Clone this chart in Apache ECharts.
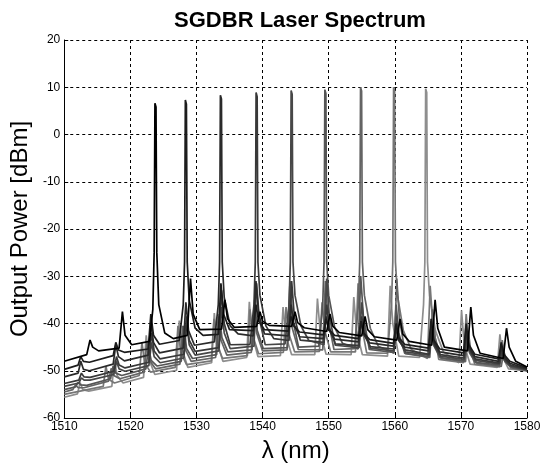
<!DOCTYPE html>
<html>
<head>
<meta charset="utf-8">
<script src="https://cdn.jsdelivr.net/npm/echarts@6/dist/echarts.min.js"></script>
<style>html,body{margin:0;padding:0;background:#fff;}#c{width:546px;height:468px;}</style>
</head>
<body>
<div id="c"></div>
<script>
// Wavelength [nm] vs output power [dBm] for each tuned channel (main peak wavelength in name)
const spec1523 = [[1510,-48],[1513.4,-46.6],[1513.9,-43.5],[1514.3,-45],[1515.2,-45.8],
[1518.3,-45.2],[1518.8,-37.5],[1519.2,-42.5],[1520.2,-44.5],
[1522.9,-43.8],[1523.4,-37],[1523.6,-25],[1523.72,6.6],[1523.88,5.8],[1524.0,-25],[1524.3,-36],[1525.2,-42],[1526.5,-43.2],
[1528.6,-42.5],[1529.1,-30.5],[1529.5,-38],[1530.5,-41.3],
[1533.8,-41.2],[1534.3,-35],[1534.7,-39],[1535.7,-40.8],
[1539.1,-40.6],[1539.6,-37.5],[1540,-39.5],[1541,-40.4],
[1544.4,-40.6],[1544.9,-37.5],[1545.3,-39.8],[1546.3,-40.9],
[1549.7,-41.7],[1550.2,-38],[1550.6,-40.5],[1551.6,-41.9],
[1555,-42.6],[1555.5,-38.5],[1555.9,-41.3],[1556.9,-42.8],
[1560.3,-43.5],[1560.8,-39],[1561.2,-42.2],[1562.2,-43.8],
[1565.6,-44.6],[1566.1,-35],[1566.5,-41],[1567.5,-45],
[1571,-45.8],[1571.5,-36.5],[1571.9,-42.5],[1572.9,-46.3],
[1576.4,-47.4],[1576.9,-41],[1577.3,-45],[1578.3,-48],
[1580,-49.2]];

const spec1528 = [[1510,-49.7],[1512.1,-48.8],[1512.5,-47],[1512.9,-48],[1513.8,-48.2],
[1517.4,-46.8],[1517.8,-44],[1518.2,-45.6],[1519.1,-46.1],
[1522.7,-45.4],[1523.1,-38],[1523.5,-42.5],[1524.4,-44.4],
[1527.4,-43.6],[1528,-36],[1528.2,-27],[1528.32,7.3],[1528.48,6.4],[1528.6,-27],[1528.9,-35],[1529.8,-41],[1531,-42.5],
[1533.3,-42.3],[1533.7,-31.5],[1534.1,-38],[1535,-41.3],
[1538.6,-41.5],[1539,-36],[1539.4,-39.5],[1540.3,-41.3],
[1543.9,-41.6],[1544.3,-38.5],[1544.7,-40.5],[1545.6,-41.8],
[1549.2,-42.4],[1549.6,-39],[1550,-41.2],[1550.9,-42.5],
[1554.5,-43.2],[1554.9,-39.5],[1555.3,-42],[1556.2,-43.4],
[1559.8,-44.2],[1560.2,-40],[1560.6,-43],[1561.5,-44.4],
[1565.1,-45.2],[1565.5,-39],[1565.9,-43.5],[1566.8,-45.4],
[1570.4,-46.2],[1570.8,-40],[1571.2,-44.5],[1572.1,-46.5],
[1575.7,-47.5],[1576.1,-44],[1576.5,-46.5],[1577.4,-48],
[1580,-49.4]];

const spec1534 = [[1510,-51.3],[1512.1,-50.5],[1512.5,-48],[1512.9,-49.7],[1513.8,-50],
[1517.4,-48.6],[1517.8,-44.5],[1518.2,-47],[1519.1,-47.9],
[1522.7,-46.7],[1523.1,-40],[1523.5,-44],[1524.4,-46.2],
[1528,-45.2],[1528.4,-35.5],[1528.8,-41.5],[1529.7,-44.6],
[1532.7,-43.9],[1533.3,-36],[1533.5,-27],[1533.62,8.3],[1533.78,7.5],[1533.9,-27],[1534.2,-34.5],[1535.1,-40.5],[1536.3,-42.2],
[1538.6,-42.6],[1539,-31],[1539.4,-38],[1540.3,-42.2],
[1543.9,-42.6],[1544.3,-36],[1544.7,-40],[1545.6,-42.8],
[1549.2,-43.2],[1549.6,-38.5],[1550,-41.3],[1550.9,-43.3],
[1554.5,-43.9],[1554.9,-39.5],[1555.3,-42.3],[1556.2,-44.1],
[1559.8,-44.8],[1560.2,-41],[1560.6,-43.6],[1561.5,-45],
[1565.1,-45.8],[1565.5,-40.5],[1565.9,-44],[1566.8,-46],
[1570.4,-46.8],[1570.8,-41.5],[1571.2,-45],[1572.1,-47],
[1575.7,-48],[1576.1,-45],[1576.5,-47],[1577.4,-48.4],
[1580,-49.6]];

const spec1539 = [[1510,-52.7],[1512.2,-52],[1512.6,-50.5],[1513,-51.3],[1513.9,-51.4],
[1517.5,-50.1],[1517.9,-47],[1518.3,-48.8],[1519.2,-49.4],
[1522.8,-48.2],[1523.2,-42],[1523.6,-45.8],[1524.5,-47.5],
[1528.1,-46.5],[1528.5,-38.5],[1528.9,-43.5],[1529.8,-45.9],
[1533.4,-45.1],[1533.8,-33],[1534.2,-40],[1535.1,-44.5],
[1538.1,-44.4],[1538.7,-36],[1538.9,-27],[1539.02,8.9],[1539.18,8.0],[1539.3,-27],[1539.6,-34],[1540.5,-40.5],[1541.7,-43.2],
[1544,-43.6],[1544.4,-31],[1544.8,-38.5],[1545.7,-43.5],
[1549.3,-44],[1549.7,-36],[1550.1,-41],[1551,-44.3],
[1554.6,-44.7],[1555,-38.5],[1555.4,-42.5],[1556.3,-44.9],
[1559.9,-45.4],[1560.3,-40],[1560.7,-43.8],[1561.6,-45.6],
[1565.2,-46.5],[1565.6,-40.5],[1566,-44.5],[1566.9,-46.6],
[1570.5,-47.3],[1570.9,-42],[1571.3,-45.6],[1572.2,-47.5],
[1575.8,-48.4],[1576.2,-45.5],[1576.6,-47.5],[1577.5,-48.8],
[1580,-49.7]];

const spec1544 = [[1510,-53.3],[1512.2,-52.6],[1512.6,-51.5],[1513,-52],[1513.9,-52],
[1517.5,-50.8],[1517.9,-48],[1518.3,-49.6],[1519.2,-50.1],
[1522.8,-48.9],[1523.2,-44],[1523.6,-47],[1524.5,-48.3],
[1528.1,-47.3],[1528.5,-39.5],[1528.9,-44.5],[1529.8,-46.7],
[1533.4,-45.8],[1533.8,-36.5],[1534.2,-42],[1535.1,-45.3],
[1538.7,-44.8],[1539.1,-31.5],[1539.5,-39],[1540.4,-44.5],
[1543.4,-44.3],[1544,-36],[1544.2,-27],[1544.32,9.3],[1544.48,8.5],[1544.6,-27],[1544.9,-34],[1545.8,-40.5],[1547,-43.6],
[1549.3,-44.5],[1549.7,-30.5],[1550.1,-38.5],[1551,-44.6],
[1554.6,-45.1],[1555,-35.5],[1555.4,-41.3],[1556.3,-45.2],
[1559.9,-45.8],[1560.3,-38.5],[1560.7,-43.5],[1561.6,-46],
[1565.2,-46.7],[1565.6,-41],[1566,-44.8],[1566.9,-46.9],
[1570.5,-47.6],[1570.9,-42],[1571.3,-45.8],[1572.2,-47.8],
[1575.8,-48.6],[1576.2,-46],[1576.6,-47.8],[1577.5,-49],
[1580,-49.8]];

const spec1549 = [[1510,-54],[1511.7,-53.4],[1512.1,-52.5],[1512.5,-53],[1513.4,-53.1],
[1517,-51.7],[1517.4,-49],[1517.8,-50.5],[1518.7,-51],
[1522.35,-49.6],[1522.75,-45],[1523.15,-47.8],[1524.05,-49],
[1527.7,-48],[1528.1,-40.5],[1528.5,-45.3],[1529.4,-47.4],
[1533.05,-46.6],[1533.45,-38],[1533.85,-43],[1534.75,-46],
[1538.4,-45.6],[1538.8,-35],[1539.2,-41.5],[1540.1,-45.3],
[1543.75,-45.1],[1544.15,-31],[1544.55,-39],[1545.45,-45],
[1548.5,-44.8],[1549.1,-36],[1549.3,-27],[1549.42,9.5],[1549.58,8.7],[1549.7,-27],[1550,-34],[1550.9,-40.8],[1552.1,-44.2],
[1554.45,-45.4],[1554.85,-30],[1555.25,-38.5],[1556.15,-45.5],
[1559.8,-46.1],[1560.2,-36],[1560.6,-42],[1561.5,-46.3],
[1565.15,-47],[1565.55,-40.5],[1565.95,-44.8],[1566.85,-47.2],
[1570.5,-47.9],[1570.9,-43],[1571.3,-46.2],[1572.2,-48.2],
[1575.85,-48.8],[1576.25,-46.5],[1576.65,-48],[1577.55,-49.2],
[1580,-49.9]];

const spec1555 = [[1510,-54.5],[1511.3,-54],[1511.7,-53],[1512.1,-53.6],[1513,-53.6],
[1516.7,-52.2],[1517.1,-49.5],[1517.5,-51],[1518.4,-51.7],
[1522.1,-50.3],[1522.5,-44],[1522.9,-47.8],[1523.8,-49.6],
[1527.5,-48.6],[1527.9,-40.5],[1528.3,-45.5],[1529.2,-48],
[1532.9,-47.2],[1533.3,-38.5],[1533.7,-43.5],[1534.6,-46.7],
[1538.3,-46.1],[1538.7,-36.5],[1539.1,-42],[1540,-45.8],
[1543.7,-45.6],[1544.1,-35],[1544.5,-41],[1545.4,-45.5],
[1549.1,-45.6],[1549.5,-31],[1549.9,-39],[1550.8,-45.5],
[1553.9,-45.3],[1554.5,-36],[1554.7,-27],[1554.82,10],[1554.98,9.2],[1555.1,-27],[1555.4,-34],[1556.3,-41],[1557.5,-44.8],
[1559.9,-46.3],[1560.3,-30.5],[1560.7,-39],[1561.6,-46.4],
[1565.3,-47.2],[1565.7,-37],[1566.1,-43],[1567,-47.4],
[1570.7,-48.1],[1571.1,-41.5],[1571.5,-45.8],[1572.4,-48.4],
[1576.1,-49.1],[1576.5,-46],[1576.9,-48],[1577.8,-49.4],
[1580,-50]];

const spec1560 = [[1510,-55],[1515.9,-53.3],[1516.3,-49],[1516.7,-51.8],[1517.6,-52.6],
[1521.35,-51],[1521.75,-44],[1522.15,-48.3],[1523.05,-50.3],
[1526.8,-49.3],[1527.2,-40.5],[1527.6,-46],[1528.5,-48.7],
[1532.25,-47.9],[1532.65,-39],[1533.05,-44.3],[1533.95,-47.4],
[1537.7,-46.8],[1538.1,-37],[1538.5,-42.5],[1539.4,-46.4],
[1543.15,-46.1],[1543.55,-36.5],[1543.95,-42],[1544.85,-46],
[1548.6,-45.9],[1549,-35.5],[1549.4,-41.5],[1550.3,-46],
[1554.05,-46],[1554.45,-31.5],[1554.85,-39.5],[1555.75,-46.2],
[1558.9,-46.3],[1559.5,-36],[1559.7,-27],[1559.82,10],[1559.98,9.2],[1560.1,-27],[1560.4,-34],[1561.3,-41.5],[1562.5,-45.5],
[1564.95,-47.4],[1565.35,-32],[1565.75,-40],[1566.65,-47.6],
[1570.4,-48.3],[1570.8,-38],[1571.2,-44.5],[1572.1,-48.6],
[1575.85,-49.2],[1576.25,-43.5],[1576.65,-47],[1577.55,-49.5],
[1580,-50]];

const spec1565 = [[1510,-55.6],[1512,-54.9],[1512.4,-52.5],[1512.8,-54],[1513.7,-54.3],
[1517.2,-53.3],[1517.6,-47.8],[1518,-51],[1518.9,-52.6],
[1522,-51.4],[1522.4,-42.5],[1522.8,-47.5],[1523.7,-50.8],
[1527,-49.9],[1527.4,-39.4],[1527.8,-45.3],[1528.7,-49.3],
[1532.3,-48.3],[1532.7,-37.8],[1533.1,-43.8],[1534,-48],
[1537.6,-47.2],[1538,-35.4],[1538.4,-42.3],[1539.3,-47],
[1542.7,-46.8],[1543.1,-36.5],[1543.5,-42.5],[1544.4,-46.6],
[1547.9,-46.6],[1548.3,-34.7],[1548.7,-41.5],[1549.6,-46.5],
[1553.4,-46.6],[1553.8,-34.4],[1554.2,-41.5],[1555.1,-46.6],
[1558.9,-46.9],[1559.3,-32],[1559.7,-40],[1560.6,-46.9],
[1563.75,-47.2],[1564.35,-36],[1564.55,-27],[1564.67,9.7],[1564.83,8.9],[1564.95,-27],[1565.25,-34],[1566.15,-41.5],[1567.35,-46],
[1569.7,-48.3],[1570.1,-37.2],[1570.5,-44.5],[1571.4,-48.6],
[1575.5,-49.3],[1575.9,-42.3],[1576.3,-47],[1577.2,-49.6],
[1580,-50]];

const traces = [spec1523, spec1528, spec1534, spec1539, spec1544, spec1549, spec1555, spec1560, spec1565];
const traceColors = ['#000000','#1c1c1c','#2a2a2a','#383838','#474747','#555555','#646464','#767676','#8e8e8e'];

const xTicks = [1510, 1520, 1530, 1540, 1550, 1560, 1570, 1580];
const yTicks = [-60, -50, -40, -30, -20, -10, 0, 10, 20];

const FONT = '"Liberation Sans", Arial, sans-serif';
const series = [];
for (let i = traces.length - 1; i >= 0; i--) {
  series.push({
    type: 'line', data: traces[i], showSymbol: false, symbol: 'none',
    lineStyle: { color: traceColors[i], width: 1.7 }, z: 3, silent: true
  });
}

const chart = echarts.init(document.getElementById('c'), null, { renderer: 'canvas' });
chart.setOption({
  animation: false,
  backgroundColor: '#ffffff',
  title: {
    text: 'SGDBR Laser Spectrum', left: 295, top: 5, textAlign: 'center',
    textStyle: { fontFamily: FONT, fontWeight: 'bold', fontSize: 22, color: '#000' }
  },
  grid: { left: 63, right: 19, top: 40, bottom: 50 },
  xAxis: {
    type: 'value', min: xTicks[0], max: xTicks[xTicks.length - 1], interval: 10,
    name: 'λ (nm)', nameLocation: 'middle', nameGap: 21,
    nameTextStyle: { fontFamily: FONT, fontSize: 24, color: '#000' },
    axisLine: { show: true, onZero: false, lineStyle: { color: '#000', width: 1 } },
    axisTick: { show: true, inside: true, length: 4, lineStyle: { color: '#000' } },
    axisLabel: { fontFamily: FONT, fontSize: 12, color: '#000', margin: 3, formatter: v => String(v) },
    splitLine: { show: true, lineStyle: { color: '#000', type: [3, 3], width: 1 } }
  },
  yAxis: {
    type: 'value', min: yTicks[0], max: yTicks[yTicks.length - 1], interval: 10,
    name: 'Output Power [dBm]', nameLocation: 'middle', nameGap: 27, nameRotate: 90,
    nameTextStyle: { fontFamily: FONT, fontSize: 24, color: '#000' },
    axisLine: { show: true, onZero: false, lineStyle: { color: '#000', width: 1 } },
    axisTick: { show: true, inside: true, length: 4, lineStyle: { color: '#000' } },
    axisLabel: { fontFamily: FONT, fontSize: 12, color: '#000', margin: 4, formatter: v => String(v) },
    splitLine: { show: true, lineStyle: { color: '#000', type: [3, 3], width: 1 } }
  },
  series: series
});
</script>
</body>
</html>
